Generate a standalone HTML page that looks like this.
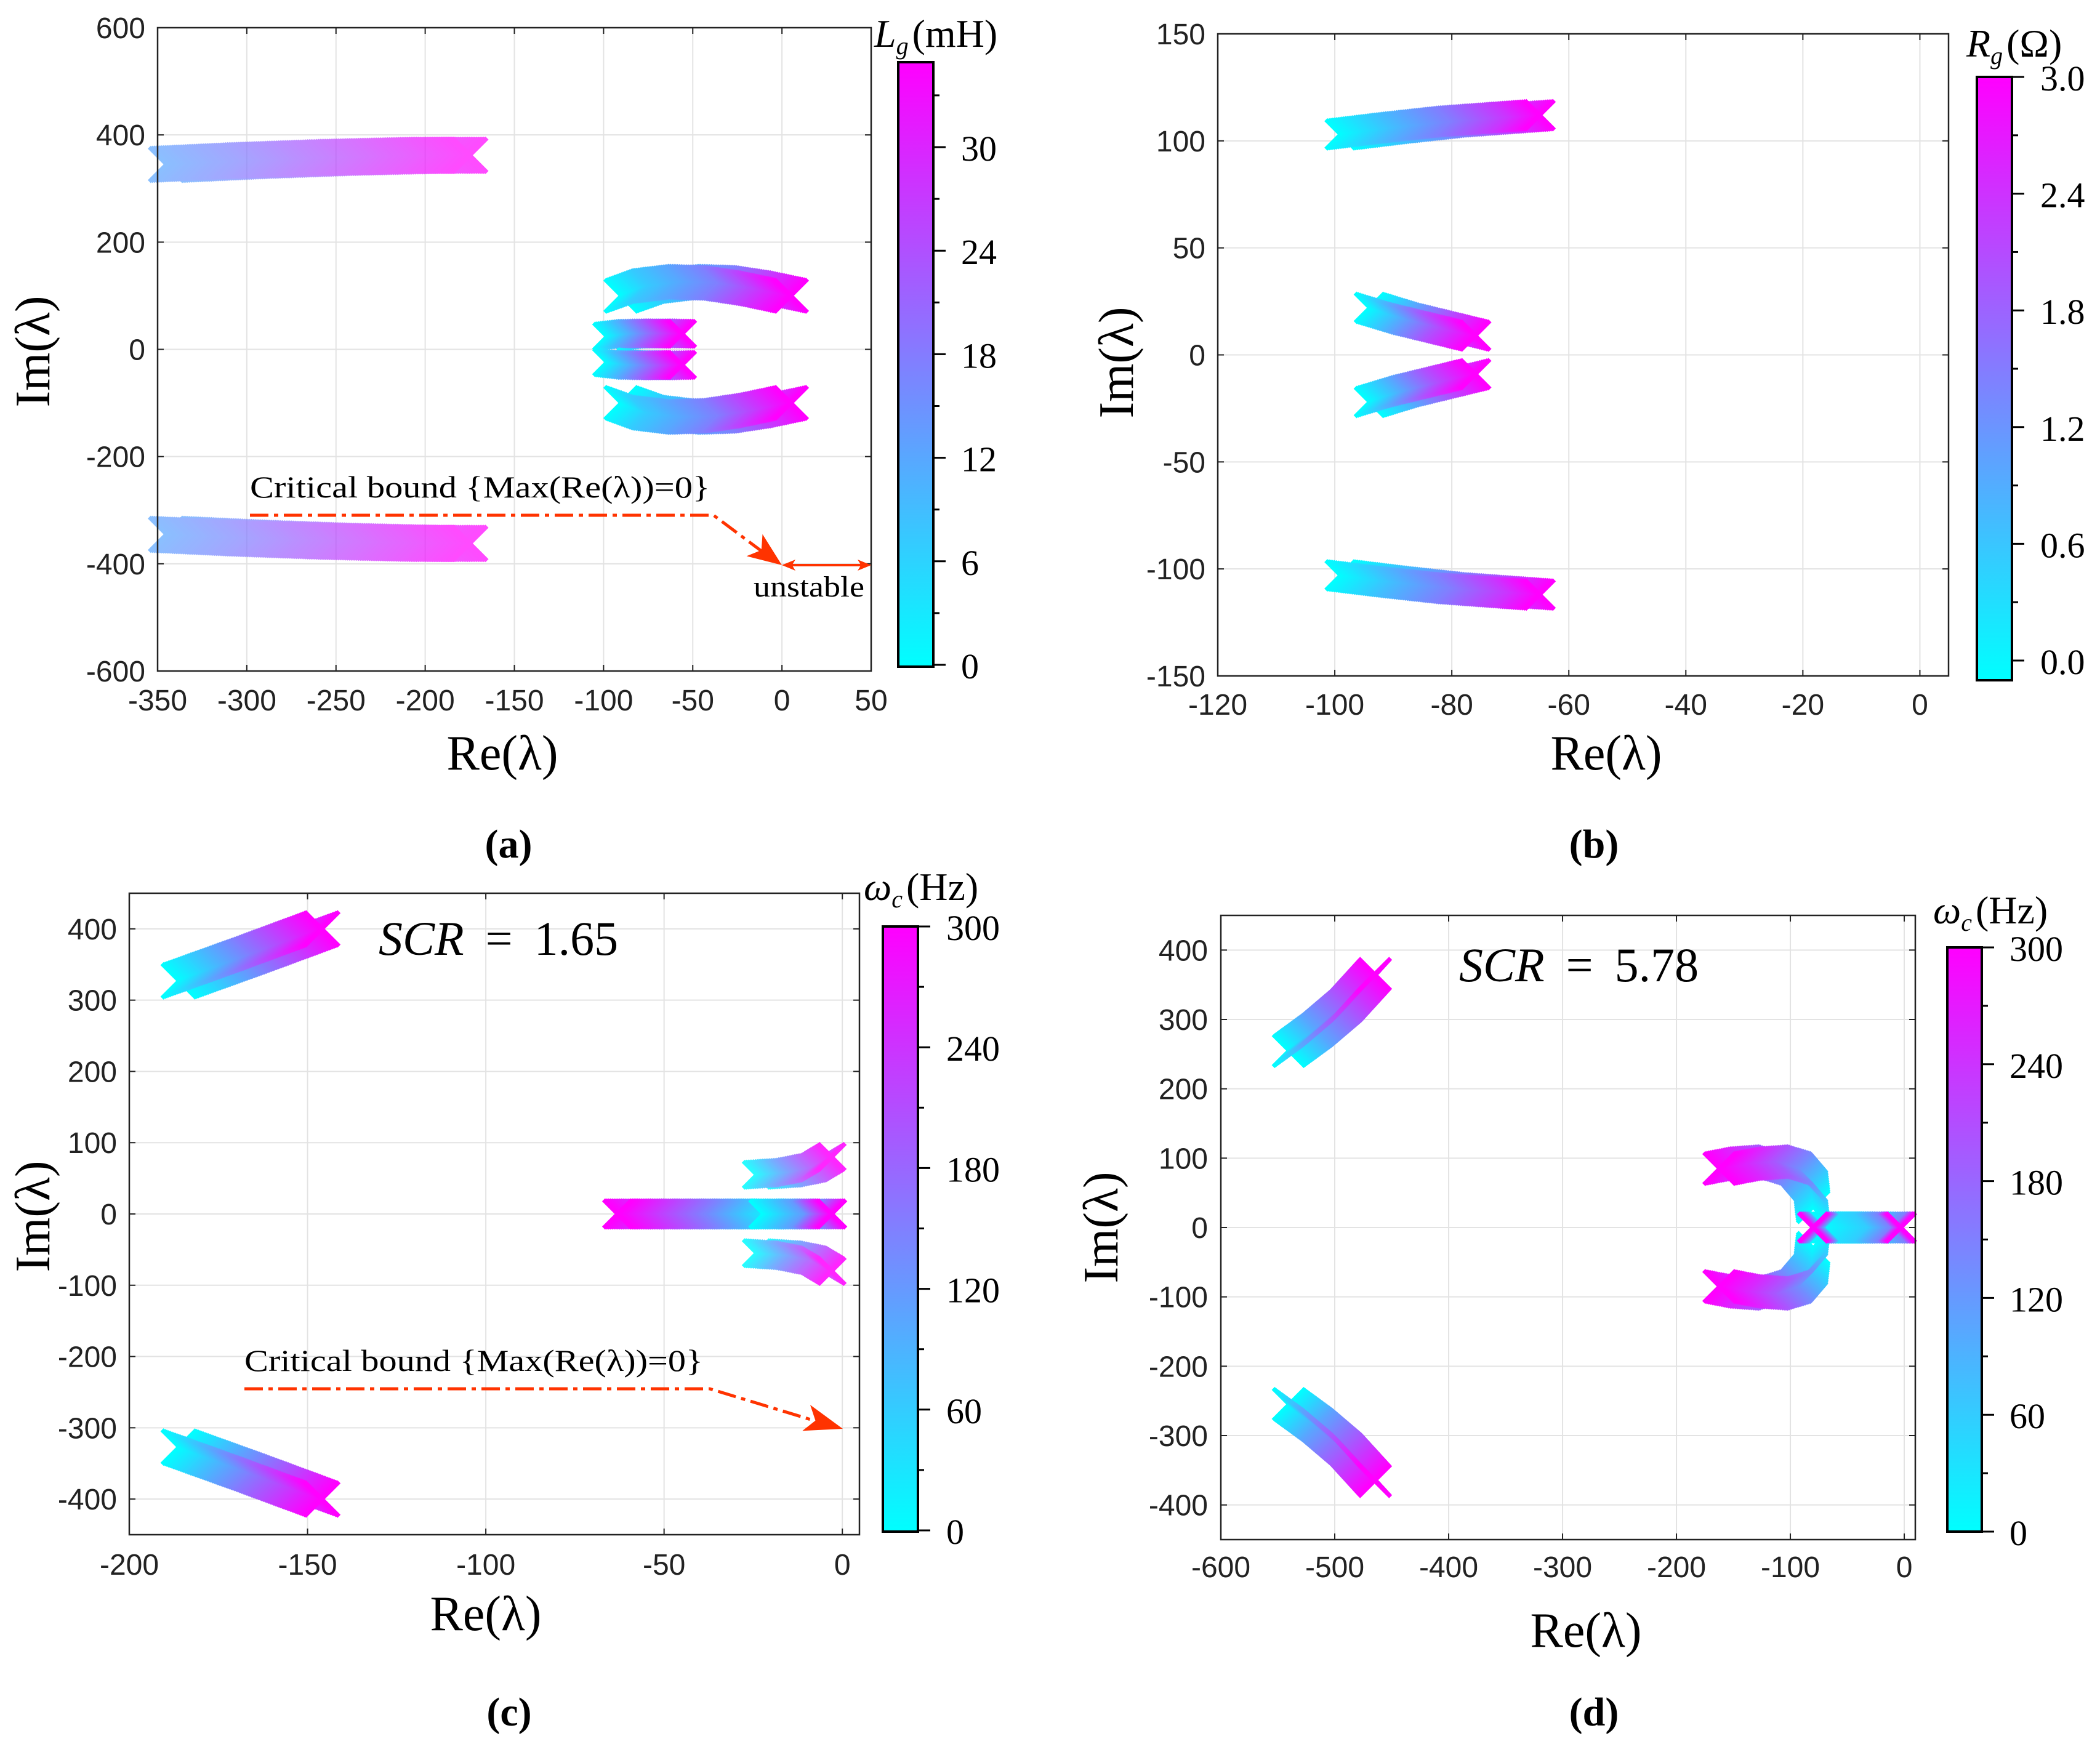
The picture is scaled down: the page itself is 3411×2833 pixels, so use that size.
<!DOCTYPE html>
<html><head><meta charset="utf-8"><style>
html,body{margin:0;padding:0;background:#fff;}
svg{display:block;}
.tk{font-family:"Liberation Sans",sans-serif;font-size:48px;fill:#222;}
.sf{font-family:"Liberation Serif",serif;fill:#000;}
</style></head><body>
<svg id="fig" xmlns="http://www.w3.org/2000/svg" width="3411" height="2833" viewBox="0 0 3411 2833">
<defs>
<linearGradient id="coolg" x1="0" y1="1" x2="0" y2="0">
<stop offset="0" stop-color="#00ffff"/><stop offset="0.5" stop-color="#8080ff"/><stop offset="1" stop-color="#ff00ff"/>
</linearGradient>
</defs>
</svg>
<script>
// ---------- tick arrays ----------
const aXTicks=[-350,-300,-250,-200,-150,-100,-50,0,50];
const aYTicks=[-600,-400,-200,0,200,400,600];
const bXTicks=[-120,-100,-80,-60,-40,-20,0];
const bYTicks=[-150,-100,-50,0,50,100,150];
const cXTicks=[-200,-150,-100,-50,0];
const cYTicks=[-400,-300,-200,-100,0,100,200,300,400];
const dXTicks=[-600,-500,-400,-300,-200,-100,0];
const dYTicks=[-400,-300,-200,-100,0,100,200,300,400];
const aCbTicks=[0,6,12,18,24,30];
const aCbLabels=["0","6","12","18","24","30"];
const bCbTicks=[0,0.6,1.2,1.8,2.4,3.0];
const bCbLabels=["0.0","0.6","1.2","1.8","2.4","3.0"];
const cCbTicks=[0,60,120,180,240,300];
const cCbLabels=["0","60","120","180","240","300"];
const dCbTicks=[0,60,120,180,240,300];
const dCbLabels=["0","60","120","180","240","300"];
// ---------- panel (a) branches: Re, Im, normalized parameter ----------
const aTopRe=[-345,-300,-250,-200,-175], aTopIm=[345,352,358,362,362], aTopT=[0.35,0.5,0.7,0.9,1];
const aBotRe=[-345,-300,-250,-200,-175], aBotIm=[-345,-352,-358,-362,-362], aBotT=[0.35,0.5,0.7,0.9,1];
const aArcURe=[-90,-75,-55,-35,-15,5], aArcUIm=[100,118,126,124,114,100], aArcUT=[0,0.2,0.35,0.5,0.75,1];
const aArcLRe=[-90,-75,-55,-35,-15,5], aArcLIm=[-100,-118,-126,-124,-114,-100], aArcLT=[0,0.2,0.35,0.5,0.75,1];
const aMidURe=[-98,-85,-70,-56], aMidUIm=[24,29,30,29], aMidUT=[0,0.3,0.65,1];
const aMidLRe=[-98,-85,-70,-56], aMidLIm=[-24,-29,-30,-29], aMidLT=[0,0.3,0.65,1];
// ---------- panel (b) ----------
const bTopRe=[-99,-90,-80,-70,-65], bTopIm=[103,106,109,111,112], bTopT=[0,0.25,0.5,0.8,1];
const bBotRe=[-99,-90,-80,-70,-65], bBotIm=[-103,-106,-109,-111,-112], bBotT=[0,0.25,0.5,0.8,1];
const bMidURe=[-94,-88,-82,-76], bMidUIm=[22,17,13,9], bMidUT=[0,0.35,0.7,1];
const bMidLRe=[-94,-88,-82,-76], bMidLIm=[-22,-17,-13,-9], bMidLT=[0,0.35,0.7,1];
// ---------- panel (c) ----------
const cULRe=[-186,-166,-146], cULIm=[327,363,400], cULT=[0,0.5,1];
const cLLRe=[-186,-166,-146], cLLIm=[-327,-363,-400], cLLT=[0,0.5,1];
const cH1Re=[-20,-40,-63], cH1Im=[0,0,0], cH1T=[0,0.5,1];
const cH2Re=[-22,-10,-3], cH2Im=[0,0,0], cH2T=[0,0.4,1];
const cArcURe=[-24,-15,-8,-3], cArcUIm=[55,58,65,80], cArcUT=[0,0.4,0.7,1];
const cArcLRe=[-24,-15,-8,-3], cArcLIm=[-55,-58,-65,-80], cArcLT=[0,0.4,0.7,1];
// ---------- panel (d) ----------
const dULRe=[-540,-515,-490,-465], dULIm=[255,285,320,365], dULT=[0,0.35,0.65,1];
const dLLRe=[-540,-515,-490,-465], dLLIm=[-255,-285,-320,-365], dLLT=[0,0.35,0.65,1];
const dArcURe=[-80,-82,-95,-115,-140,-162], dArcUIm=[30,60,85,95,92,85], dArcUT=[0,0.2,0.45,0.65,0.85,1];
const dArcLRe=[-80,-82,-95,-115,-140,-162], dArcLIm=[-30,-60,-85,-95,-92,-85], dArcLT=[0,0.2,0.45,0.65,0.85,1];
const dH1Re=[-70,-30,-10,-3], dH1Im=[0,0,0,0], dH1T=[0,0.2,0.5,1];
const dH2Re=[-72,-80], dH2Im=[0,0], dH2T=[0.3,1];

const NS="http://www.w3.org/2000/svg";
const svg=document.getElementById('fig');
function mk(tag,attrs,parent){const e=document.createElementNS(NS,tag);for(const k in attrs)e.setAttribute(k,attrs[k]);(parent||svg).appendChild(e);return e;}
function cool(t){t=Math.max(0,Math.min(1,t));return `rgb(${Math.round(255*t)},${Math.round(255*(1-t))},255)`;}

function panel(id,cfg){
  const g=mk('g',{});
  
  
  const sx=v=>cfg.L+(v-cfg.x0)/(cfg.x1-cfg.x0)*(cfg.R-cfg.L);
  const sy=v=>cfg.B-(v-cfg.y0)/(cfg.y1-cfg.y0)*(cfg.B-cfg.T);
  const grid=mk('g',{stroke:'#e3e3e3','stroke-width':2},g);
  
  
  cfg.xt.forEach(v=>{mk('line',{x1:sx(v),x2:sx(v),y1:cfg.T,y2:cfg.B},grid);});
  cfg.yt.forEach(v=>{mk('line',{y1:sy(v),y2:sy(v),x1:cfg.L,x2:cfg.R},grid);});
  const tg=mk('g',{stroke:'#222','stroke-width':2},g);
  cfg.xt.forEach(v=>{const x=sx(v);mk('line',{x1:x,x2:x,y1:cfg.B,y2:cfg.B-10},tg);mk('line',{x1:x,x2:x,y1:cfg.T,y2:cfg.T+10},tg);});
  cfg.yt.forEach(v=>{const y=sy(v);mk('line',{x1:cfg.L,x2:cfg.L+10,y1:y,y2:y},tg);mk('line',{x1:cfg.R,x2:cfg.R-10,y1:y,y2:y},tg);});
  cfg.branches.forEach((b,bi)=>{
    const bg=mk('g',{fill:'none','stroke-width':b.w||7,opacity:b.op||1},g);
    
    
    const h=b.h;
    for(let i=0;i<b.re.length-1;i++){
      const x0=sx(b.re[i]),y0=sy(b.im[i]),x1=sx(b.re[i+1]),y1=sy(b.im[i+1]);
      const n=Math.max(1,Math.ceil(Math.hypot(x1-x0,y1-y0)/3));
      for(let k=0;k<=n;k++){
        if(k===n&&i<b.re.length-2)continue;
        const f=k/n,x=x0+(x1-x0)*f,y=y0+(y1-y0)*f,t=b.t[i]+(b.t[i+1]-b.t[i])*f;
        mk('path',{d:`M${x-h} ${y-h}L${x+h} ${y+h}M${x-h} ${y+h}L${x+h} ${y-h}`,stroke:cool(t)},bg);
      }
    }
  });
  const box=mk('rect',{x:cfg.L,y:cfg.T,width:cfg.R-cfg.L,height:cfg.B-cfg.T,fill:'none',stroke:'#222','stroke-width':2.5},g);
  
  
  cfg.xt.forEach(v=>{const t=mk('text',{x:sx(v),y:cfg.xlabY,'text-anchor':'middle',class:'tk'},g);t.textContent=String(v);
    
    });
  cfg.yt.forEach(v=>{const t=mk('text',{x:cfg.ylabX,y:sy(v)+17,'text-anchor':'end',class:'tk'},g);t.textContent=String(v);
    
    });
  const xt=mk('text',{x:cfg.xTitle[0],y:cfg.xTitle[1],'text-anchor':'middle',class:'sf','font-size':80},g);
  xt.textContent='Re(λ)';
  
  
  const yt=mk('text',{x:0,y:0,'text-anchor':'middle',class:'sf','font-size':80,transform:`translate(${cfg.yTitle[0]},${cfg.yTitle[1]}) rotate(-90)`},g);
  yt.textContent='Im(λ)';
  
  
  const pl=mk('text',{x:cfg.pLabel[0],y:cfg.pLabel[1],'text-anchor':'middle',class:'sf','font-size':66,'font-weight':'bold'},g);
  pl.textContent='('+id+')';
  
  
  const cb=cfg.cb;
  const cg=mk('g',{},g);
  
  
  mk('rect',{x:cb.x,y:cb.top,width:cb.w,height:cb.bot-cb.top,fill:'url(#coolg)',stroke:'#000','stroke-width':4},cg);
  const cy=v=>cb.z-(v-cb.v0)/(cb.v1-cb.v0)*(cb.z-cb.zt);
  const step=cb.ticks[1]-cb.ticks[0];
  cb.ticks.forEach((v,i)=>{const y=cy(v);mk('line',{x1:cb.x+cb.w,x2:cb.x+cb.w+20,y1:y,y2:y,stroke:'#000','stroke-width':3},cg);
    const m=cy(v+step/2); if(m>cb.top) mk('line',{x1:cb.x+cb.w,x2:cb.x+cb.w+10,y1:m,y2:m,stroke:'#000','stroke-width':3},cg);
    const t=mk('text',{x:cb.lx,y:y+22,class:'sf','font-size':58},cg);t.textContent=cb.labels[i];
    
    });
  const ct=mk('text',{x:cb.title[0],y:cb.title[1],class:'sf','font-size':64},cg);
  ct.innerHTML=cb.titleHTML;
  
  
  return {sx,sy,g};
}

panel('a',{L:256,R:1415,T:45,B:1090,x0:-350,x1:50,y0:-600,y1:600,xt:aXTicks,yt:aYTicks,xlabY:1154,ylabX:236,
  xTitle:[816,1250],yTitle:[80,571],pLabel:[826,1393],
  cb:{x:1459,w:57,top:101,bot:1083,z:1080,zt:239,v0:0,v1:30,ticks:aCbTicks,labels:aCbLabels,lx:1561,title:[1420,76],
   titleHTML:'<tspan font-style="italic">L</tspan><tspan font-style="italic" font-size="40" dy="12">g</tspan><tspan dy="-12" dx="6">(mH)</tspan>'},
  branches:[
   {name:'upper-far',re:aTopRe,im:aTopIm,t:aTopT,h:28,op:0.7},
   {name:'lower-far',re:aBotRe,im:aBotIm,t:aBotT,h:28,op:0.7},
   {name:'upper-arc',re:aArcURe,im:aArcUIm,t:aArcUT,h:27},
   {name:'lower-arc',re:aArcLRe,im:aArcLIm,t:aArcLT,h:27},
   {name:'upper-mid',re:aMidURe,im:aMidUIm,t:aMidUT,h:22},
   {name:'lower-mid',re:aMidLRe,im:aMidLIm,t:aMidLT,h:22}]});

panel('b',{L:1978,R:3165,T:55,B:1098,x0:-120,x1:4.9,y0:-150,y1:150,xt:bXTicks,yt:bYTicks,xlabY:1161,ylabX:1958,
  xTitle:[2609,1250],yTitle:[1840,589],pLabel:[2589,1393],
  cb:{x:3211,w:57,top:125,bot:1105,z:1073,zt:125,v0:0,v1:3,ticks:bCbTicks,labels:bCbLabels,lx:3314,title:[3194,92],
   titleHTML:'<tspan font-style="italic">R</tspan><tspan font-style="italic" font-size="40" dy="12">g</tspan><tspan dy="-12" dx="6">(Ω)</tspan>'},
  branches:[
   {name:'upper',re:bTopRe,im:bTopIm,t:bTopT,h:24},
   {name:'lower',re:bBotRe,im:bBotIm,t:bBotT,h:24},
   {name:'upper-mid',re:bMidURe,im:bMidUIm,t:bMidUT,h:24},
   {name:'lower-mid',re:bMidLRe,im:bMidLIm,t:bMidLT,h:24}]});

panel('c',{L:210,R:1396,T:1451,B:2493,x0:-200,x1:4.8,y0:-450,y1:450,xt:cXTicks,yt:cYTicks,xlabY:2558,ylabX:190,
  xTitle:[789,2648],yTitle:[80,1976],pLabel:[827,2803],
  cb:{x:1434,w:57,top:1505,bot:2488,z:2486,zt:1505,v0:0,v1:300,ticks:cCbTicks,labels:cCbLabels,lx:1537,title:[1403,1462],
   titleHTML:'<tspan font-style="italic">ω</tspan><tspan font-style="italic" font-size="40" dy="12">c</tspan><tspan dy="-12" dx="6">(Hz)</tspan>'},
  branches:[
   {name:'upper-left',re:cULRe,im:cULIm,t:cULT,h:28},
   {name:'lower-left',re:cLLRe,im:cLLIm,t:cLLT,h:28},
   {name:'upper-arc',re:cArcURe,im:cArcUIm,t:cArcUT,h:22,op:0.85},
   {name:'lower-arc',re:cArcLRe,im:cArcLIm,t:cArcLT,h:22,op:0.85},
   {name:'real-left',re:cH1Re,im:cH1Im,t:cH1T,h:23},
   {name:'real-right',re:cH2Re,im:cH2Im,t:cH2T,h:23}]});

panel('d',{L:1983,R:3111,T:1487,B:2501,x0:-600,x1:9.7,y0:-450,y1:450,xt:dXTicks,yt:dYTicks,xlabY:2562,ylabX:1962,
  xTitle:[2576,2675],yTitle:[1815,1994],pLabel:[2589,2803],
  cb:{x:3163,w:56,top:1539,bot:2488,z:2488,zt:1539,v0:0,v1:300,ticks:dCbTicks,labels:dCbLabels,lx:3264,title:[3140,1500],
   titleHTML:'<tspan font-style="italic">ω</tspan><tspan font-style="italic" font-size="40" dy="12">c</tspan><tspan dy="-12" dx="6">(Hz)</tspan>'},
  branches:[
   {name:'upper-left',re:dULRe,im:dULIm,t:dULT,h:26},
   {name:'lower-left',re:dLLRe,im:dLLIm,t:dLLT,h:26},
   {name:'upper-arc',re:dArcURe,im:dArcUIm,t:dArcUT,h:26},
   {name:'lower-arc',re:dArcLRe,im:dArcLIm,t:dArcLT,h:26},
   {name:'real-right',re:dH1Re,im:dH1Im,t:dH1T,h:24},
   {name:'real-left',re:dH2Re,im:dH2Im,t:dH2T,h:24}]});

function txt(x,y,s,attrs,name){const t=mk('text',Object.assign({x:x,y:y},attrs));t.textContent=s;
  
  return t;}
function arrowHead(tx,ty,fx,fy,L,W,name){const a=Math.atan2(ty-fy,tx-fx),c=Math.cos(a),s=Math.sin(a);
  const bx=tx-L*c,by=ty-L*s;
  const p=mk('polygon',{points:`${tx},${ty} ${bx-W*s},${by+W*c} ${bx+L*0.25*c},${by+L*0.25*s} ${bx+W*s},${by-W*c}`,fill:'#ff3300'});
  
  }
txt(406,808,'Critical bound {Max(Re(λ))=0}',{class:'sf','font-size':50,fill:'#ff0000',textLength:747,lengthAdjust:'spacingAndGlyphs'},'critical-bound-label-a');
const la=mk('path',{d:'M406 837 L1159 837 L1250 905',fill:'none',stroke:'#ff3300','stroke-width':5,'stroke-dasharray':'30 9 7 9'});


arrowHead(1270,918,1159,837,55,22,'critical-bound-arrow-a');
const ua=mk('line',{x1:1285,y1:918,x2:1400,y2:918,stroke:'#ff3300','stroke-width':4});


arrowHead(1270,918,1300,918,22,9,'unstable-arrow-left');
arrowHead(1415,918,1385,918,22,9,'unstable-arrow-right');
txt(1224,969,'unstable',{class:'sf','font-size':48,fill:'#ff0000',textLength:180,lengthAdjust:'spacingAndGlyphs'},'unstable-label');

txt(397,2227,'Critical bound {Max(Re(λ))=0}',{class:'sf','font-size':50,fill:'#ff0000',textLength:745,lengthAdjust:'spacingAndGlyphs'},'critical-bound-label-c');
const lc=mk('path',{d:'M397 2256 L1153 2256 L1330 2310',fill:'none',stroke:'#ff3300','stroke-width':5,'stroke-dasharray':'30 9 7 9'});


arrowHead(1369,2321,1153,2256,62,22,'critical-bound-arrow-c');

const s1=txt(615,1551,'',{class:'sf','font-size':78},'scr-annotation-c');
s1.innerHTML='<tspan font-style="italic">SCR</tspan><tspan dx="35">=</tspan><tspan dx="35">1.65</tspan>';
const s2=txt(2370,1594,'',{class:'sf','font-size':78},'scr-annotation-d');
s2.innerHTML='<tspan font-style="italic">SCR</tspan><tspan dx="35">=</tspan><tspan dx="35">5.78</tspan>';
</script>
</body></html>
